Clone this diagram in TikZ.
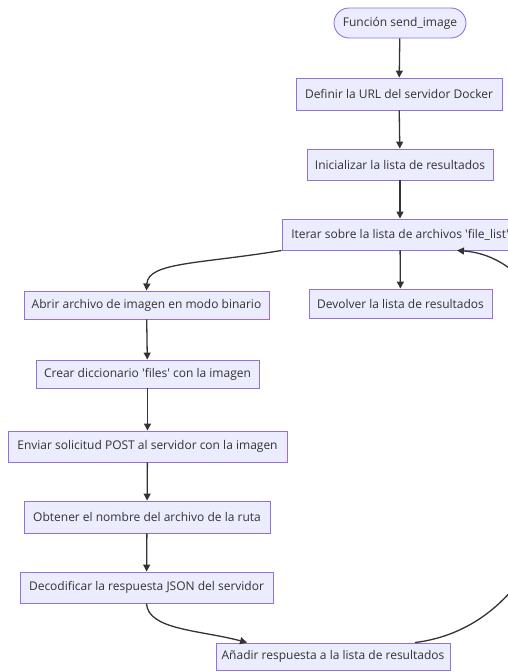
\documentclass[tikz,border=0pt]{standalone}
\usepackage{fontspec}
\setmainfont{Open Sans}
\usetikzlibrary{arrows.meta}
\definecolor{boxfill}{HTML}{ECECFF}
\definecolor{boxline}{HTML}{9370DB}
\definecolor{ink}{HTML}{333333}
\newcommand{\sq}{\textquotesingle}
\tikzset{
  stepbox/.style={draw=boxline, fill=boxfill, line width=0.9pt, text=ink,
    font=\fontsize{12}{14}\selectfont, inner sep=0pt, anchor=center},
  startbox/.style={stepbox, rounded corners=15pt},
  flow/.style={draw=ink, line width=1.3pt, -{Triangle[length=7pt,width=7pt]}},
}
\begin{document}
\begin{tikzpicture}[x=1pt, y=-1pt]
  \useasboundingbox (0,0) rectangle (508,672);
  \clip (0,0) rectangle (508,672);
  % main column
  \node[startbox, minimum width=132pt, minimum height=30pt] (start) at (400,23) {Función send\_image};
  \node[stepbox, minimum width=206pt, minimum height=32pt] (url) at (399,94) {Definir la URL del servidor Docker};
  \node[stepbox, minimum width=186pt, minimum height=31pt] (init) at (400,164.5) {Inicializar la lista de resultados};
  \node[stepbox, minimum width=236pt, minimum height=31pt] (iter) at (400,234.5) {Iterar sobre la lista de archivos \sq file\_list\sq};
  \node[stepbox, minimum width=183pt, minimum height=29pt] (ret) at (400.5,303.5) {Devolver la lista de resultados};
  % loop body
  \node[stepbox, minimum width=245pt, minimum height=28pt] (open) at (146.5,305) {Abrir archivo de imagen en modo binario};
  \node[stepbox, minimum width=223pt, minimum height=28pt] (dict) at (147.5,374) {Crear diccionario \sq files\sq\ con la imagen};
  \node[stepbox, minimum width=279pt, minimum height=31pt] (post) at (147.5,446.5) {Enviar solicitud POST al servidor con la imagen};
  \node[stepbox, minimum width=246pt, minimum height=32pt] (name) at (147,517) {Obtener el nombre del archivo de la ruta};
  \node[stepbox, minimum width=253pt, minimum height=31pt] (json) at (146.5,587.5) {Decodificar la respuesta JSON del servidor};
  \node[stepbox, minimum width=234pt, minimum height=27pt] (add) at (333,656.5) {Añadir respuesta a la lista de resultados};
  % connectors
  \draw[flow] (start) -- (url);
  \draw[flow] (url) -- (init);
  \draw[flow] (init) -- (iter);
  \draw[flow] (iter) -- (ret);
  \draw[flow] (open) -- (dict);
  \draw[flow] (dict) -- (post);
  \draw[flow] (post) -- (name);
  \draw[flow] (name) -- (json);
  \draw[flow] (iter.south west) .. controls (200,264) and (148,262) .. (open.north);
  \draw[flow] (json.south) .. controls (148,630) and (200,630) .. ([xshift=-86pt]add.north);
  \draw[flow] ([xshift=82pt]add.north) .. controls (610,618) and (610,262) .. ([xshift=57pt]iter.south);
\end{tikzpicture}
\end{document}
